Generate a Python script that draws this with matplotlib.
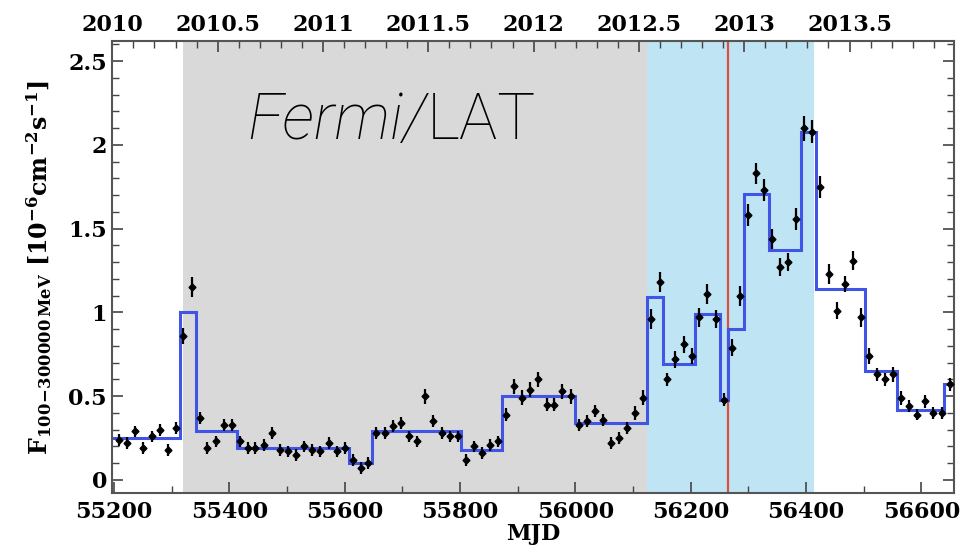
import matplotlib
matplotlib.use('Agg')
import matplotlib.pyplot as plt
from matplotlib.ticker import MultipleLocator, FixedLocator, FuncFormatter

# light curve points (MJD, flux in 1e-6 ph cm^-2 s^-1)
mjd = [55208, 55222, 55237, 55251, 55265, 55280, 55293, 55307, 55320, 55335,
       55349, 55362, 55376, 55390, 55405, 55418, 55432, 55445, 55460, 55474,
       55488, 55501, 55515, 55530, 55544, 55558, 55572, 55587, 55600, 55614,
       55628, 55641, 55655, 55669, 55684, 55697, 55712, 55726, 55739, 55753,
       55768, 55782, 55797, 55810, 55824, 55838, 55852, 55866, 55880, 55894,
       55908, 55922, 55936, 55950, 55963, 55977, 55992, 56006, 56020, 56034,
       56048, 56061, 56076, 56090, 56104, 56118, 56131, 56146, 56159, 56173,
       56188, 56202, 56215, 56229, 56244, 56257, 56271, 56286, 56299, 56313,
       56327, 56341, 56355, 56369, 56383, 56396, 56411, 56425, 56440, 56453,
       56467, 56481, 56495, 56509, 56523, 56537, 56551, 56565, 56579, 56593,
       56607, 56620, 56635, 56649]
flux = [0.24, 0.22, 0.29, 0.19, 0.26, 0.30, 0.18, 0.31, 0.86, 1.15,
        0.37, 0.19, 0.23, 0.33, 0.33, 0.23, 0.19, 0.19, 0.21, 0.28,
        0.18, 0.17, 0.15, 0.20, 0.18, 0.17, 0.22, 0.17, 0.19, 0.12,
        0.07, 0.10, 0.28, 0.28, 0.32, 0.34, 0.26, 0.23, 0.50, 0.35,
        0.28, 0.26, 0.26, 0.12, 0.20, 0.16, 0.21, 0.23, 0.39, 0.56,
        0.49, 0.54, 0.60, 0.45, 0.45, 0.53, 0.50, 0.33, 0.35, 0.41,
        0.36, 0.22, 0.25, 0.31, 0.40, 0.49, 0.96, 1.18, 0.60, 0.72,
        0.81, 0.74, 0.97, 1.11, 0.96, 0.48, 0.79, 1.10, 1.58, 1.83,
        1.73, 1.44, 1.27, 1.30, 1.56, 2.10, 2.08, 1.75, 1.23, 1.01,
        1.17, 1.31, 0.97, 0.74, 0.63, 0.60, 0.63, 0.49, 0.44, 0.39,
        0.47, 0.40, 0.40, 0.57]
ferr = [0.035, 0.035, 0.035, 0.035, 0.035, 0.035, 0.035, 0.035, 0.05, 0.06,
        0.035, 0.035, 0.035, 0.035, 0.035, 0.035, 0.035, 0.035, 0.035, 0.035,
        0.035, 0.035, 0.035, 0.035, 0.035, 0.035, 0.035, 0.035, 0.035, 0.035,
        0.035, 0.035, 0.035, 0.035, 0.035, 0.035, 0.035, 0.035, 0.045, 0.035,
        0.035, 0.035, 0.035, 0.035, 0.035, 0.035, 0.035, 0.035, 0.04, 0.045,
        0.045, 0.045, 0.045, 0.04, 0.04, 0.045, 0.045, 0.035, 0.035, 0.035,
        0.035, 0.035, 0.035, 0.035, 0.04, 0.045, 0.06, 0.06, 0.04, 0.05,
        0.05, 0.05, 0.055, 0.06, 0.055, 0.04, 0.05, 0.06, 0.065, 0.065,
        0.065, 0.06, 0.055, 0.055, 0.065, 0.075, 0.07, 0.065, 0.06, 0.05,
        0.05, 0.055, 0.055, 0.045, 0.04, 0.04, 0.045, 0.04, 0.035, 0.035,
        0.04, 0.035, 0.035, 0.04]

# Bayesian blocks
block_edges = [55196, 55314, 55342, 55413, 55608, 55648, 55801, 55872, 55999,
               56125, 56152, 56208, 56250, 56264, 56293, 56335, 56391, 56418,
               56503, 56557, 56640, 56657]
block_flux = [0.25, 1.00, 0.29, 0.19, 0.10, 0.29, 0.18, 0.50, 0.34, 1.09,
              0.69, 0.99, 0.48, 0.90, 1.71, 1.37, 2.08, 1.14, 0.65, 0.42, 0.57]

year_ticks = [2010, 2010.5, 2011, 2011.5, 2012, 2012.5, 2013, 2013.5]

gray_span = (55319, 56124)
blue_span = (56124, 56414)
flare_mjd = 56265

plt.rcParams['mathtext.fontset'] = 'dejavuserif'
plt.rcParams['font.family'] = 'DejaVu Serif'
plt.rcParams['font.weight'] = 'bold'

fig = plt.figure(figsize=(9.6, 5.56), dpi=100)
ax = fig.add_axes([0.1164, 0.1133, 0.8776, 0.8127])

ax.axvspan(*gray_span, color='#d9d9d9', lw=0, zorder=0)
ax.axvspan(*blue_span, color='#bfe4f4', lw=0, zorder=0)
ax.axvline(flare_mjd, color='#d9503f', lw=1.6, zorder=1)

ax.stairs(block_flux, block_edges, color='#4055e6', lw=2.2, zorder=2, baseline=None)
ax.errorbar(mjd, flux, yerr=ferr, fmt='D', ms=3.5, color='black',
            ecolor='black', elinewidth=1.6, capsize=0, zorder=3)

ax.set_xlim(55196, 56657)
ax.set_ylim(-0.078, 2.62)

ax.xaxis.set_major_locator(MultipleLocator(200))
ax.xaxis.set_minor_locator(MultipleLocator(100))
ax.yaxis.set_major_locator(MultipleLocator(0.5))
ax.yaxis.set_minor_locator(MultipleLocator(0.1))
ax.yaxis.set_major_formatter(FuncFormatter(lambda v, p: f'{v:g}'))
ax.tick_params(axis='both', which='both', direction='in', labelsize=16,
               color='#444444')
ax.tick_params(axis='x', which='both', top=False)
ax.tick_params(axis='y', which='both', right=True)
ax.tick_params(which='major', length=8, width=1.2)
ax.tick_params(which='minor', length=5, width=1.0)
ax.tick_params(axis='x', pad=6)
for s in ax.spines.values():
    s.set_color('#555555')
    s.set_linewidth(1.5)

def to_year(x):
    return 2010 + (x - 55197.0) / 365.25

def to_mjd(y):
    return 55197.0 + (y - 2010) * 365.25

top = ax.secondary_xaxis('top', functions=(to_year, to_mjd))
top.xaxis.set_major_locator(FixedLocator(year_ticks))
top.xaxis.set_minor_locator(MultipleLocator(0.1))
top.xaxis.set_major_formatter(FuncFormatter(lambda v, p: f'{v:g}'))
top.tick_params(which='both', direction='in', labelsize=16, color='#444444', pad=4)
top.tick_params(which='major', length=8, width=1.2)
top.tick_params(which='minor', length=5, width=1.0)
top.spines['top'].set_visible(False)

ax.set_xlabel('MJD', fontsize=16, fontweight='bold', labelpad=0)
ax.set_ylabel(r'$\mathbf{F}_{\mathbf{100\!-\!300000}\,\mathrm{MeV}}\ \mathbf{[10^{-6}cm^{-2}s^{-1}]}$',
              fontsize=17, labelpad=10)

fig.text(247 / 960, 1 - 139 / 556, 'Fermi/', fontsize=46, style='italic',
         family='Roboto', weight='light', color='black', va='baseline')
fig.text(427 / 960, 1 - 139 / 556, 'LAT', fontsize=46,
         family='Roboto', weight='light', color='black', va='baseline')

fig.savefig('out.png', dpi=100)
